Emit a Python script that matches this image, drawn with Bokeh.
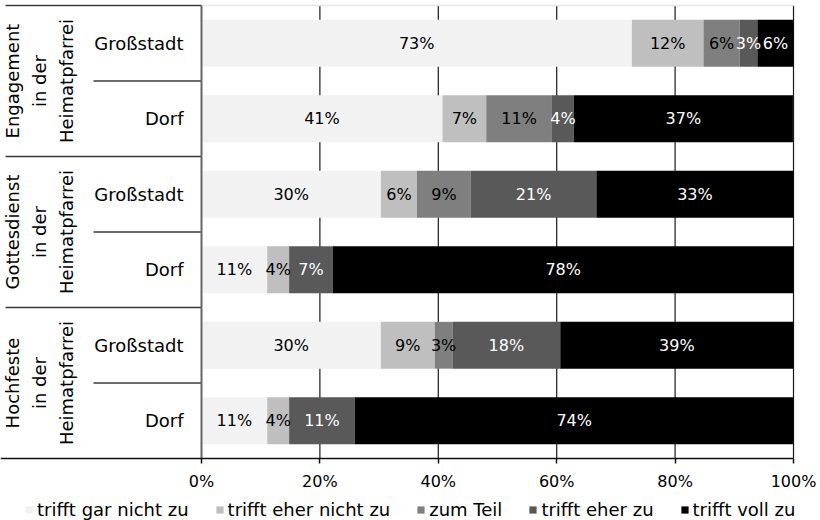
import numpy as np
from bokeh.plotting import figure
from bokeh.models import ColumnDataSource, FixedTicker, Range1d, Legend, LegendItem
from bokeh.core.properties import value
from bokeh.embed import file_html
from bokeh.resources import INLINE

# ---------------- data ----------------
groups = ["Engagement\nin der\nHeimatpfarrei",
          "Gottesdienst\nin der\nHeimatpfarrei",
          "Hochfeste\nin der\nHeimatpfarrei"]
places = ["Großstadt", "Dorf"]
series_names = ["trifft gar nicht zu", "trifft eher nicht zu", "zum Teil",
                "trifft eher zu", "trifft voll zu"]
# rows top to bottom: Engagement G/D, Gottesdienst G/D, Hochfeste G/D  (percent)
gar_nicht = [72.7, 40.7, 30.3, 11.1, 30.3, 11.1]
eher_nicht = [12.1, 7.4, 6.1, 3.7, 9.1, 3.7]
zum_teil = [6.1, 11.1, 9.1, 0.0, 3.0, 0.0]
eher_zu = [3.0, 3.7, 21.2, 7.4, 18.2, 11.1]
voll_zu = [6.1, 37.0, 33.3, 77.8, 39.4, 74.1]
tick_values = [0, 20, 40, 60, 80, 100]
tick_labels = ["0%", "20%", "40%", "60%", "80%", "100%"]

series = [gar_nicht, eher_nicht, zum_teil, eher_zu, voll_zu]
colors = ["#F2F2F2", "#BFBFBF", "#7F7F7F", "#595959", "#000000"]
text_colors = ["#000000", "#000000", "#000000", "#FFFFFF", "#FFFFFF"]
FONT = value("DejaVu Sans")

n_rows = len(groups) * len(places)
row_y = [n_rows - i - 0.5 for i in range(n_rows)]
keys = ["s%d" % i for i in range(len(series))]
data = {"y": row_y}
for k, vals in zip(keys, series):
    data[k] = vals
source = ColumnDataSource(data)

X0, X1 = -33.95, 104.56
Y0, Y1 = -0.8212, n_rows + 0.0265
p = figure(width=820, height=520,
           x_range=Range1d(X0, X1), y_range=Range1d(Y0, Y1),
           output_backend="svg", toolbar_location=None, y_axis_location=None,
           min_border_left=0, min_border_top=3, min_border_right=0,
           min_border_bottom=0)
p.outline_line_color = None
p.xgrid.visible = False
p.ygrid.visible = False

# value axis, drawn at y = 0 inside the frame
p.xaxis.fixed_location = 0
p.xaxis.bounds = (X0, tick_values[-1])
p.xaxis.ticker = FixedTicker(ticks=tick_values)
p.xaxis.major_label_overrides = {v: l for v, l in zip(tick_values, tick_labels)}
p.xaxis.minor_tick_line_color = None
p.xaxis.major_tick_in = 0
p.xaxis.major_tick_out = 5
p.xaxis.axis_line_color = "#111111"
p.xaxis.axis_line_width = 1.5
p.xaxis.major_tick_line_color = "#111111"
p.xaxis.major_tick_line_width = 1.5
p.xaxis.major_label_standoff = 9
p.xaxis.major_label_text_font = "DejaVu Sans"
p.xaxis.major_label_text_font_size = "16px"
p.xaxis.major_label_text_color = "#000000"

# vertical gridlines (only over the bar area)
gl = tick_values[1:]
p.segment(x0=gl, x1=gl, y0=[0] * len(gl), y1=[n_rows] * len(gl),
          line_color="#1a1a1a", line_width=1.2)

# bars
rs = p.hbar_stack(keys, y="y", height=0.62, fill_color=colors, line_color=None,
                  source=source)

# data labels
lx, ly, lt, lc = [], [], [], []
for si, vals in enumerate(series):
    for r in range(n_rows):
        v = vals[r]
        if v <= 0:
            continue
        left = sum(series[j][r] for j in range(si))
        lx.append(left + v / 2.0)
        ly.append(row_y[r])
        lt.append("%d%%" % int(round(v)))
        lc.append(text_colors[si])
lab = ColumnDataSource(dict(x=lx, y=ly, t=lt, c=lc))
p.text(x="x", y="y", text="t", text_color="c", source=lab, text_align="center",
       text_baseline="middle", text_font=FONT, text_font_size="16px")

# left category area
grid_col = "#3a3a3a"
group_y = [n_rows - len(places) * g - len(places) / 2.0 for g in range(len(groups))]
p.text(x=[-27.36] * len(groups), y=group_y, text=groups, angle=np.pi / 2,
       text_align="center", text_baseline="middle", text_font=FONT,
       text_font_size="18px", text_line_height=1.28, text_color="#000000")
p.text(x=[-3.04] * n_rows, y=row_y, text=places * len(groups), text_align="right",
       text_baseline="middle", text_font=FONT, text_font_size="18px",
       text_color="#000000")

sep_major = [n_rows - len(places) * g for g in range(len(groups))]
p.segment(x0=[-33.1] * len(sep_major), x1=[0] * len(sep_major), y0=sep_major,
          y1=sep_major, line_color=grid_col, line_width=1.6)
sep_minor = [n_rows - len(places) * g - 1 for g in range(len(groups))]
p.segment(x0=[-18.24] * len(sep_minor), x1=[0] * len(sep_minor), y0=sep_minor,
          y1=sep_minor, line_color=grid_col, line_width=1.6)
# top light border and category axis line
p.segment(x0=[0], x1=[100], y0=[n_rows], y1=[n_rows], line_color="#e6e6e6",
          line_width=1.5)
p.segment(x0=[0], x1=[0], y0=[0], y1=[n_rows], line_color="#666666", line_width=2)

legend = Legend(items=[LegendItem(label=n, renderers=[r]) for n, r in zip(series_names, rs)],
                orientation="horizontal", location=(24, 0))
legend.glyph_width = 9
legend.glyph_height = 9
legend.label_standoff = 4
legend.spacing = 26
legend.padding = 0
legend.margin = 0
legend.border_line_color = None
legend.background_fill_alpha = 0
legend.label_text_font = "DejaVu Sans"
legend.label_text_font_size = "18px"
legend.label_text_color = "#000000"
p.add_layout(legend, "center")

open("out.html", "w").write(file_html(p, INLINE))
